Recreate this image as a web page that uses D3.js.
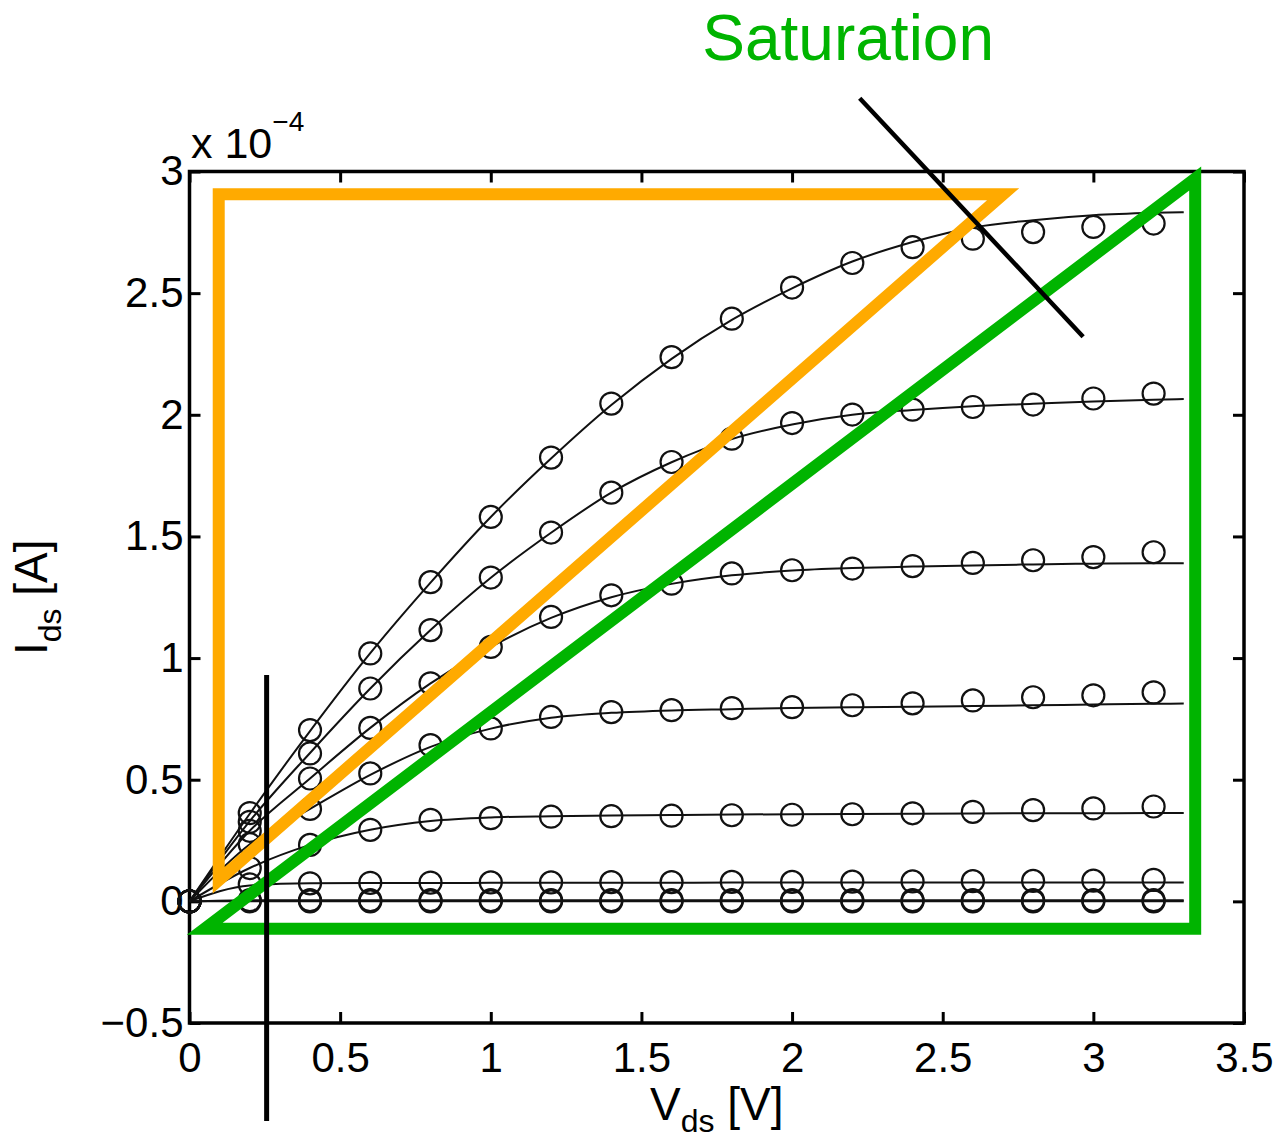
<!DOCTYPE html>
<html>
<head>
<meta charset="utf-8">
<title>Ids vs Vds</title>
<script src="https://d3js.org/d3.v7.min.js"></script>
<style>
  body { margin: 0; background: #fff; }
  text { font-family: "Liberation Sans", Arial, Helvetica, sans-serif; fill: #000; }
  .tick line { stroke: #000; stroke-width: 3; }
  .tick text { font-size: 42px; }
  .fit { fill: none; stroke: #111; stroke-width: 2; }
  .point { fill: none; stroke: #111; stroke-width: 2.2; }
</style>
</head>
<body>
<svg id="chart" width="1285" height="1141"></svg>
<script>
// ---- data ----
// drain voltage of the measured points [V]
const vds = [0, 0.2, 0.4, 0.6, 0.8, 1.0, 1.2, 1.4, 1.6, 1.8, 2.0, 2.2, 2.4, 2.6, 2.8, 3.0, 3.2];
// drain voltage of the fitted curves [V]
const fitVds = [0, 0.2, 0.4, 0.6, 0.8, 1.0, 1.2, 1.4, 1.6, 1.8, 2.0, 2.2, 2.4, 2.6, 2.8, 3.0, 3.2, 3.3];

// measured Ids, in units of 1e-4 A (one array per gate voltage, top to bottom)
const meas1 = [0, 0.363, 0.704, 1.019, 1.312, 1.580, 1.824, 2.046, 2.237, 2.395, 2.523, 2.624, 2.689, 2.724, 2.751, 2.772, 2.786];
const meas2 = [0, 0.327, 0.608, 0.875, 1.115, 1.331, 1.516, 1.680, 1.806, 1.902, 1.966, 2.001, 2.021, 2.032, 2.042, 2.067, 2.087];
const meas3 = [0, 0.290, 0.505, 0.713, 0.896, 1.046, 1.169, 1.258, 1.306, 1.348, 1.361, 1.368, 1.378, 1.391, 1.402, 1.415, 1.435];
const meas4 = [0, 0.235, 0.380, 0.526, 0.642, 0.711, 0.758, 0.778, 0.786, 0.794, 0.798, 0.806, 0.814, 0.826, 0.839, 0.847, 0.859];
const meas5 = [0, 0.137, 0.232, 0.294, 0.335, 0.342, 0.348, 0.350, 0.352, 0.354, 0.356, 0.358, 0.362, 0.368, 0.375, 0.382, 0.390];
const meas6 = [0, 0.070, 0.074, 0.076, 0.077, 0.078, 0.078, 0.079, 0.079, 0.080, 0.080, 0.081, 0.082, 0.083, 0.084, 0.085, 0.088];
const meas7 = [0, 0.005, 0.005, 0.005, 0.005, 0.005, 0.005, 0.005, 0.005, 0.005, 0.005, 0.005, 0.005, 0.005, 0.005, 0.005, 0.005];
const meas8 = [0, 0, 0, 0, 0, 0, 0, 0, 0, 0, 0, 0, 0, 0, 0, 0, 0];

// model fit, same units
const fit1 = [0, 0.36, 0.70, 1.02, 1.31, 1.58, 1.82, 2.04, 2.23, 2.39, 2.52, 2.63, 2.71, 2.77, 2.80, 2.82, 2.83, 2.833];
const fit2 = [0, 0.33, 0.61, 0.875, 1.115, 1.33, 1.515, 1.68, 1.805, 1.90, 1.96, 2.00, 2.02, 2.035, 2.045, 2.055, 2.062, 2.065];
const fit3 = [0, 0.29, 0.505, 0.713, 0.896, 1.046, 1.165, 1.25, 1.305, 1.34, 1.36, 1.37, 1.376, 1.381, 1.385, 1.388, 1.39, 1.39];
const fit4 = [0, 0.235, 0.38, 0.52, 0.635, 0.71, 0.755, 0.775, 0.785, 0.79, 0.795, 0.798, 0.80, 0.803, 0.806, 0.809, 0.812, 0.813];
const fit5 = [0, 0.137, 0.232, 0.294, 0.33, 0.345, 0.35, 0.353, 0.355, 0.357, 0.358, 0.359, 0.36, 0.361, 0.362, 0.362, 0.363, 0.363];
const fit6 = [0, 0.065, 0.074, 0.075, 0.075, 0.076, 0.076, 0.076, 0.076, 0.077, 0.077, 0.077, 0.077, 0.077, 0.077, 0.077, 0.077, 0.077];
const fit7 = [0, 0.005, 0.005, 0.005, 0.005, 0.005, 0.005, 0.005, 0.005, 0.005, 0.005, 0.005, 0.005, 0.005, 0.005, 0.005, 0.005, 0.005];
const fit8 = [0, 0, 0, 0, 0, 0, 0, 0, 0, 0, 0, 0, 0, 0, 0, 0, 0, 0];

// axis ticks
const xTicks = [0, 0.5, 1, 1.5, 2, 2.5, 3, 3.5];
const yTicks = [-0.5, 0, 0.5, 1, 1.5, 2, 2.5, 3];

// annotations drawn on top, in data units [Vds, Ids]
const linearRegion = [[0.097, 2.907], [2.701, 2.907], [0.097, 0.087]];
const saturationRegion = [[0.050, -0.113], [3.338, 2.971], [3.338, -0.113]];
const linearMarker = [[0.256, 0.93], [0.256, -0.903]];
const saturationMarker = [[2.2245, 3.301], [2.966, 2.321]];
const saturationLabel = { text: "Saturation", at: [1.702, 3.458] };

// ---- chart ----
const svg = d3.select("#chart");
const x = d3.scaleLinear().domain([0, 3.5]).range([189.5, 1244]);
const y = d3.scaleLinear().domain([-0.5, 3]).range([1023, 171.5]);

const fmt = d3.format("");

// box
svg.append("rect")
   .attr("x", x(0)).attr("y", y(3))
   .attr("width", x(3.5) - x(0)).attr("height", y(-0.5) - y(3))
   .attr("fill", "none").attr("stroke", "#000").attr("stroke-width", 3.5);

// ticks pointing inwards on all four sides
let leftAxis = d3.axisLeft(y).tickValues(yTicks).tickFormat(fmt).tickSizeInner(-11).tickSizeOuter(0).tickPadding(6);
let rightAxis = d3.axisRight(y).tickValues(yTicks).tickFormat("").tickSizeInner(-11).tickSizeOuter(0);
let bottomAxis = d3.axisBottom(x).tickValues(xTicks).tickFormat(fmt).tickSizeInner(-11).tickSizeOuter(0).tickPadding(19);
let topAxis = d3.axisTop(x).tickValues(xTicks).tickFormat("").tickSizeInner(-11).tickSizeOuter(0);

svg.append("g").attr("transform", `translate(${x(0)},0)`).call(leftAxis);
svg.append("g").attr("transform", `translate(${x(3.5)},0)`).call(rightAxis);
svg.append("g").attr("transform", `translate(0,${y(-0.5)})`).call(bottomAxis);
svg.append("g").attr("transform", `translate(0,${y(3)})`).call(topAxis);
svg.selectAll(".domain").remove();
svg.selectAll(".tick text").attr("fill", "#000").style("font-family", null);
// end ticks at the corners are hidden by the box
svg.selectAll(".tick").filter(d => d === 3.5 || d === 0 || d === -0.5 || d === 3)
   .select("line").attr("stroke-width", 0);

// exponent
const expo = svg.append("text").attr("x", 191).attr("y", 158).attr("font-size", 43);
expo.append("tspan").text("x 10");
expo.append("tspan").attr("font-size", 28).attr("dy", -27).text("\u22124");

// axis labels
const xl = svg.append("text").attr("x", x(1.75)).attr("y", 1120)
              .attr("text-anchor", "middle").attr("font-size", 46);
xl.append("tspan").text("V");
xl.append("tspan").attr("font-size", 32).attr("dy", 12).text("ds");
xl.append("tspan").attr("dy", -12).text(" [V]");

const yl = svg.append("text").attr("transform", `translate(47,${(y(3) + y(-0.5)) / 2}) rotate(-90)`)
              .attr("text-anchor", "middle").attr("font-size", 46);
yl.append("tspan").text("I");
yl.append("tspan").attr("font-size", 32).attr("dy", 14).text("ds");
yl.append("tspan").attr("dy", -14).text(" [A]");

// curves
const series = [
  { m: meas1, f: fit1 }, { m: meas2, f: fit2 }, { m: meas3, f: fit3 }, { m: meas4, f: fit4 },
  { m: meas5, f: fit5 }, { m: meas6, f: fit6 }, { m: meas7, f: fit7 }, { m: meas8, f: fit8 }
];

const fitLine = d3.line()
                  .x((d, i) => x(fitVds[i]))
                  .y(d => y(d))
                  .curve(d3.curveMonotoneX);

let plot = svg.append("g").attr("id", "plot");

plot.selectAll("path.fit")
    .data(series)
    .join("path")
    .attr("class", "fit")
    .attr("d", s => fitLine(s.f));

series.forEach((s, k) => {
  plot.append("g").selectAll("circle.point")
      .data(s.m)
      .join("circle")
      .attr("class", "point")
      .attr("cx", (d, i) => x(vds[i]))
      .attr("cy", d => y(d))
      .attr("r", 11);
});

// annotations
const poly = d3.line().x(d => x(d[0])).y(d => y(d[1]));
let notes = svg.append("g").attr("id", "annotations");

notes.append("path")
     .attr("d", poly(linearRegion) + "Z")
     .attr("fill", "none").attr("stroke", "#ffaa00").attr("stroke-width", 12)
     .attr("stroke-linejoin", "miter").attr("stroke-miterlimit", 10);

notes.append("path")
     .attr("d", poly(saturationRegion) + "Z")
     .attr("fill", "none").attr("stroke", "#00b400").attr("stroke-width", 12)
     .attr("stroke-linejoin", "miter").attr("stroke-miterlimit", 10);

notes.append("path")
     .attr("d", poly(linearMarker))
     .attr("stroke", "#000").attr("stroke-width", 5);

notes.append("path")
     .attr("d", poly(saturationMarker))
     .attr("stroke", "#000").attr("stroke-width", 4.5);

notes.append("text")
     .attr("x", x(saturationLabel.at[0])).attr("y", y(saturationLabel.at[1]))
     .attr("font-size", 64)
     .style("fill", "#00b400")
     .text(saturationLabel.text);
</script>
</body>
</html>
